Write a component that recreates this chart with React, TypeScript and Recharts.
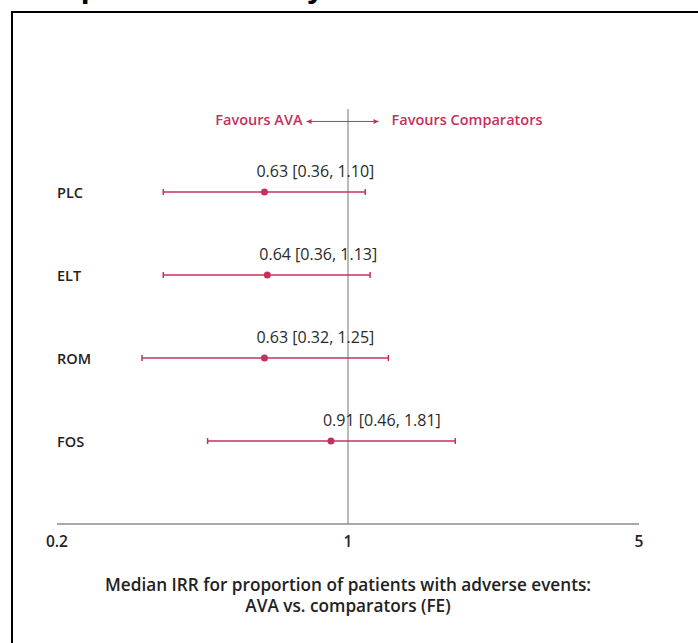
import React from 'react';
import { ScatterChart, Scatter, XAxis, YAxis, ErrorBar, ReferenceLine } from 'recharts';

// values
const categories = ['PLC', 'ELT', 'ROM', 'FOS'];
const medians = [0.63, 0.64, 0.63, 0.91];
const lowers = [0.36, 0.36, 0.32, 0.46];
const uppers = [1.1, 1.13, 1.25, 1.81];
const xTicks = [0.2, 1, 5];

const RED = '#C8305C';
const FONT = '"Open Sans", sans-serif';

const fmt = (v: number) => v.toFixed(2);

const data = categories.map((name, i) => ({
  name,
  row: i + 1,
  irr: medians[i],
  err: [medians[i] - lowers[i], uppers[i] - medians[i]],
  label: `${fmt(medians[i])} [${fmt(lowers[i])}, ${fmt(uppers[i])}]`,
}));

const Marker = (props: any) => {
  const { cx, cy, payload } = props;
  return (
    <g>
      <circle cx={cx} cy={cy} r={3.5} fill={RED} />
      <text
        x={cx - 8}
        y={cy - 21}
        textAnchor="start"
        dominantBaseline="central"
        fontFamily={FONT}
        fontSize={16}
        fill="#2a2a2a"
      >
        {payload.label}
      </text>
    </g>
  );
};

const RowTick = (props: any) => {
  const { y, payload } = props;
  return (
    <text
      x={57}
      y={y}
      textAnchor="start"
      dominantBaseline="central"
      fontFamily={FONT}
      fontSize={14.5}
      fontWeight={600}
      fill="#222"
    >
      {categories[payload.value - 1]}
    </text>
  );
};

const AxisTitle = (props: any) => {
  const { viewBox } = props;
  const cx = viewBox.x + viewBox.width / 2;
  return (
    <text
      textAnchor="middle"
      dominantBaseline="central"
      fontFamily={FONT}
      fontSize={17.2}
      fontWeight={600}
      fill="#222"
    >
      <tspan x={cx} y={viewBox.y + 60}>
        Median IRR for proportion of patients with adverse events:
      </tspan>
      <tspan x={cx} y={viewBox.y + 81}>
        AVA vs. comparators (FE)
      </tspan>
    </text>
  );
};

const arrowShape = (text: string, side: 'left' | 'right') => (props: any) => {
  const { x1, y1, x2, y2 } = props;
  const dir = x2 > x1 ? 1 : -1;
  return (
    <g>
      <line x1={x1} y1={y1} x2={x2} y2={y2} stroke={RED} strokeWidth={1} />
      <path d={`M${x2},${y2} L${x2 - dir * 5},${y2 - 2.5} L${x2 - dir * 5},${y2 + 2.5} Z`} fill={RED} />
      <text
        x={side === 'left' ? x2 - 4 : x2 + 13}
        y={y2 - 2}
        textAnchor={side === 'left' ? 'end' : 'start'}
        dominantBaseline="central"
        fontFamily={FONT}
        fontSize={14.5}
        fontWeight={600}
        fill={RED}
      >
        {text}
      </text>
    </g>
  );
};

export default function App() {
  return (
    <div
      style={{
        position: 'absolute',
        left: 0,
        top: 0,
        width: 698,
        height: 643,
        overflow: 'hidden',
        background: '#fff',
      }}
    >
      <div
        style={{
          position: 'absolute',
          left: 15,
          top: -30,
          fontFamily: '"Liberation Sans", Arial, sans-serif',
          fontWeight: 700,
          fontSize: 32,
          lineHeight: '32px',
          whiteSpace: 'nowrap',
          color: '#000',
        }}
      >
        comparators for any AE – fixed effect model
      </div>
      <div
        style={{
          position: 'absolute',
          left: 11,
          top: 11,
          width: 800,
          height: 800,
          border: '2px solid #000',
          boxSizing: 'border-box',
        }}
      />
      <div style={{ position: 'absolute', left: 0, top: 0 }}>
        <ScatterChart width={698} height={643} margin={{ top: 109, right: 59, bottom: 0, left: 7 }}>
          <XAxis
            type="number"
            dataKey="irr"
            scale="log"
            domain={[0.2, 5]}
            ticks={xTicks}
            allowDataOverflow
            height={119}
            tickLine={false}
            tickSize={0}
            tickMargin={12}
            axisLine={{ stroke: '#8c8c8c', strokeWidth: 1.5 }}
            tickFormatter={(v: number) => String(v)}
            tick={{ fill: '#222', fontSize: 15.5, fontWeight: 600, fontFamily: FONT }}
            label={<AxisTitle />}
          />
          <YAxis
            type="number"
            dataKey="row"
            domain={[0, 5]}
            reversed
            ticks={[1, 2, 3, 4]}
            width={50}
            tickSize={0}
            tickMargin={0}
            axisLine={false}
            tickLine={false}
            tick={<RowTick />}
          />
          <ReferenceLine x={1} stroke="#8c8c8c" strokeWidth={1.2} />
          <ReferenceLine
            segment={[{ x: 1, y: 0.15 }, { x: 0.795, y: 0.15 }]}
            shape={arrowShape('Favours AVA', 'left')}
          />
          <ReferenceLine
            segment={[{ x: 1, y: 0.15 }, { x: 1.184, y: 0.15 }]}
            shape={arrowShape('Favours Comparators', 'right')}
          />
          <Scatter data={data} shape={<Marker />} isAnimationActive={false}>
            <ErrorBar dataKey="err" direction="x" width={3} stroke={RED} strokeWidth={1.5} />
          </Scatter>
        </ScatterChart>
      </div>
    </div>
  );
}
